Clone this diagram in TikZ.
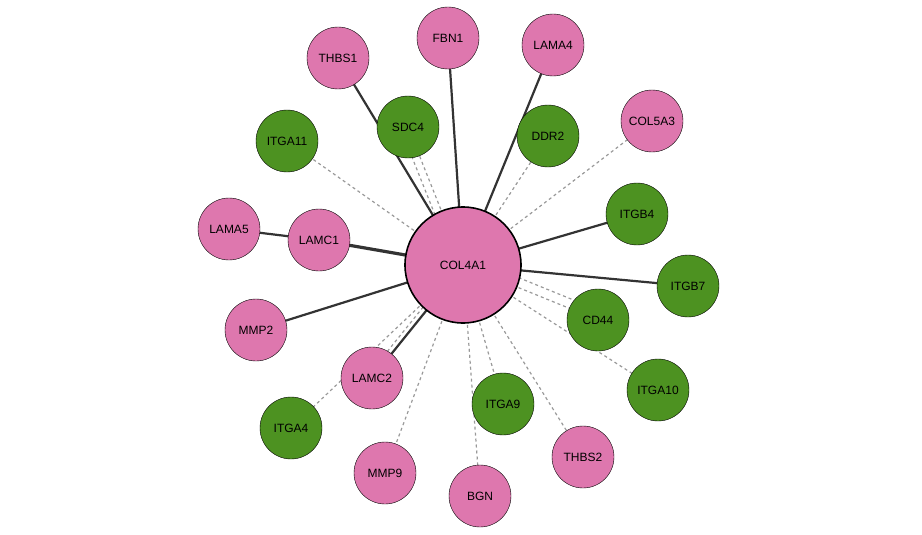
\documentclass[tikz,border=0pt]{standalone}
\usepackage{fontspec}
\setmainfont{Liberation Sans}
\usetikzlibrary{backgrounds}
\definecolor{pinkn}{HTML}{DE77AE}
\definecolor{greenn}{HTML}{4D9221}
\begin{document}
\begin{tikzpicture}[x=1pt,y=-1pt,
  prot/.style={circle,draw=black,thin,minimum size=62pt,inner sep=0pt,font=\fontsize{12}{14}\selectfont},
  pn/.style={prot,fill=pinkn},
  gn/.style={prot,fill=greenn},
  strong/.style={draw=black!80,line width=2.2pt},
  weak/.style={draw=black!40,dashed,line width=1.2pt}]
\useasboundingbox (0,0) rectangle (922,535);

\node[pn,minimum size=116pt,line width=1.6pt] (COL4A1) at (463,265) {COL4A1};
\node[pn] (FBN1) at (448,38) {FBN1};
\node[pn] (THBS1) at (338,58) {THBS1};
\node[pn] (LAMA4) at (553,45) {LAMA4};
\node[gn] (SDC4) at (408,127) {SDC4};
\node[gn] (DDR2) at (548,136) {DDR2};
\node[pn] (COL5A3) at (652,121) {COL5A3};
\node[gn] (ITGA11) at (287,141) {ITGA11};
\node[gn] (ITGB4) at (637,214) {ITGB4};
\node[pn] (LAMA5) at (229,229) {LAMA5};
\node[pn] (LAMC1) at (319,240) {LAMC1};
\node[gn] (ITGB7) at (688,286) {ITGB7};
\node[pn] (MMP2) at (256,330) {MMP2};
\node[gn] (CD44) at (598,320) {CD44};
\node[pn] (LAMC2) at (372,378) {LAMC2};
\node[gn] (ITGA10) at (658,390) {ITGA10};
\node[gn] (ITGA9) at (503,404) {ITGA9};
\node[gn] (ITGA4) at (291,428) {ITGA4};
\node[pn] (THBS2) at (583,457) {THBS2};
\node[pn] (MMP9) at (385,473) {MMP9};
\node[pn] (BGN) at (480,496) {BGN};

\begin{scope}[on background layer]
  % solid links
  \foreach \n in {FBN1,THBS1,LAMA4,ITGB4,ITGB7,MMP2,LAMC2}
    \draw[strong] (COL4A1.center) -- (\n.center);
  \draw[strong,line width=3.2pt] (COL4A1.center) -- (LAMC1.center);
  \draw[strong] (LAMA5.center) -- (LAMC1.center);
  % dashed links
  \foreach \n in {ITGA11,SDC4,DDR2,COL5A3,CD44,ITGA10,ITGA9,THBS2,BGN,MMP9,ITGA4}
    \draw[weak] (COL4A1.center) -- (\n.center);
  \draw[weak] ([xshift=-8pt]COL4A1.center) -- ([xshift=-8pt]SDC4.center);
  \draw[weak] ([yshift=10pt]COL4A1.center) -- ([yshift=10pt]CD44.center);
  \draw[weak] ([xshift=-6pt]COL4A1.center) -- ([xshift=-6pt]LAMC2.center);
\end{scope}
\end{tikzpicture}
\end{document}
